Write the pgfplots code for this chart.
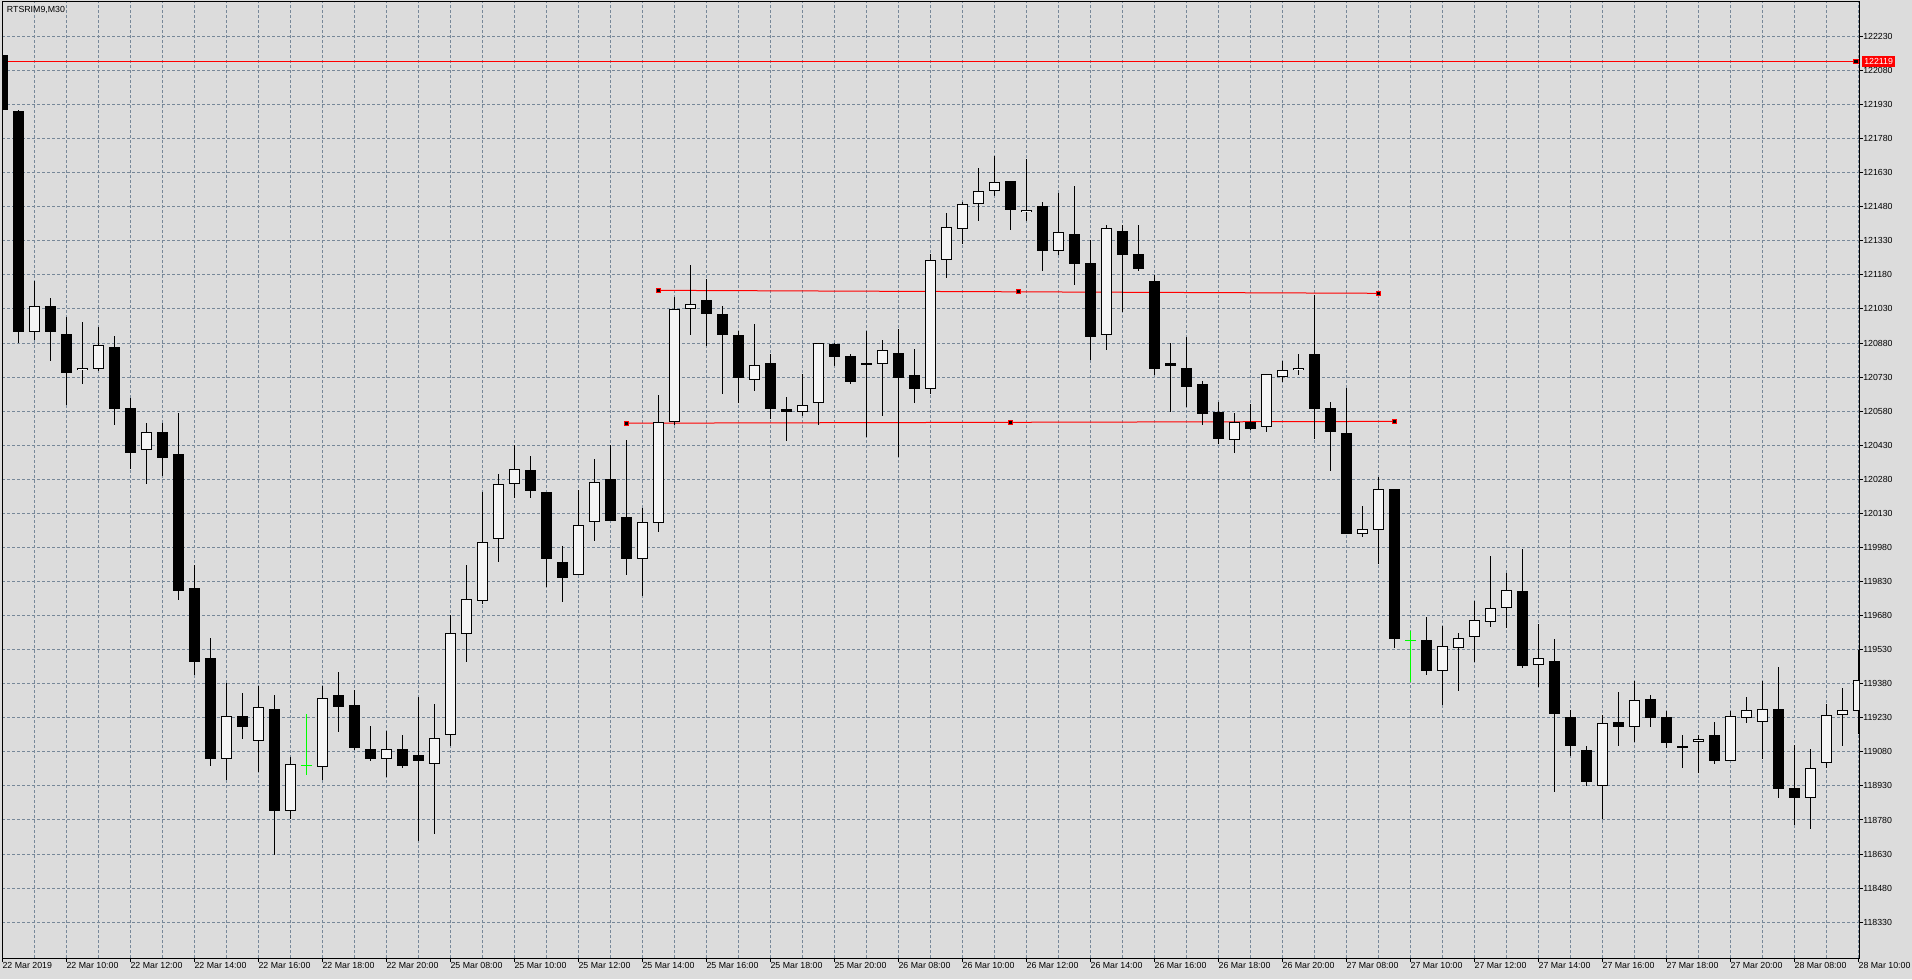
\documentclass[border=0pt]{standalone}
\usepackage{pgfplots}
\usepackage{pgfplotstable}
\pgfplotsset{compat=1.18}
\usepackage{fontspec}
\setmainfont{Liberation Sans}
\definecolor{bgc}{RGB}{220,220,220}
\definecolor{gridc}{RGB}{119,136,153}
\definecolor{wc}{RGB}{245,245,245}
\definecolor{dojic}{RGB}{0,255,0}
\definecolor{lred}{RGB}{255,0,0}

% 30-minute bars, x = bar index (0 = 22 Mar 08:00)
\pgfplotstableread{
x o h l c
0 122151 122160 121905 121909
1 121902 121905 120879 120930
2 120930 121154 120895 121042
3 121042 121081 120804 120930
4 120920 120993 120606 120748
5 120760 120972 120699 120769
6 120766 120951 120760 120871
7 120862 120911 120519 120592
8 120594 120641 120328 120398
9 120410 120531 120261 120489
10 120489 120531 120298 120377
11 120391 120571 119750 119788
12 119802 119902 119417 119475
13 119494 119580 119016 119051
14 119051 119382 118958 119240
15 119240 119342 119137 119191
16 119130 119370 118993 119279
17 119270 119331 118629 118820
18 118820 119056 118783 119028
20 119014 119370 118958 119319
21 119329 119432 119169 119279
22 119289 119352 119088 119098
23 119091 119194 119040 119050
24 119050 119172 118969 119091
25 119091 119154 119009 119018
26 119069 119323 118689 119041
27 119029 119291 118720 119140
28 119153 119683 119106 119602
29 119602 119903 119477 119752
30 119743 120224 119730 120003
31 120020 120303 119917 120262
32 120262 120430 120199 120328
33 120320 120383 120199 120230
34 120223 120225 119807 119931
35 119919 119989 119741 119847
36 119862 120233 119862 120082
37 120091 120372 120010 120271
38 120280 120430 120098 120098
39 120113 120452 119860 119931
40 119931 120154 119766 120091
41 120090 120651 120049 120531
42 120531 121084 120522 121028
43 121028 121224 120917 121050
44 121072 121162 120867 121009
45 121011 121043 120656 120917
46 120918 120933 120617 120727
47 120719 120964 120669 120782
48 120791 120832 120545 120590
49 120592 120642 120449 120578
50 120578 120744 120559 120610
51 120617 120879 120520 120879
52 120879 120879 120779 120820
53 120823 120832 120700 120710
54 120782 120933 120468 120790
55 120790 120893 120560 120852
56 120839 120942 120378 120727
57 120742 120854 120617 120679
58 120680 121270 120655 121248
59 121248 121455 121168 121390
60 121381 121502 121316 121491
61 121491 121651 121419 121552
62 121552 121703 121529 121592
63 121592 121592 121379 121467
64 121460 121690 121419 121469
65 121483 121501 121199 121287
66 121288 121541 121266 121372
67 121359 121571 121137 121229
68 121232 121334 120807 120908
69 120918 121400 120851 121389
70 121373 121400 121018 121269
71 121272 121400 121198 121207
72 121153 121182 120739 120767
73 120792 120880 120578 120780
74 120769 120909 120600 120688
75 120702 120713 120522 120569
76 120579 120619 120437 120459
77 120452 120572 120397 120531
78 120531 120612 120500 120500
79 120509 120742 120490 120742
80 120729 120801 120708 120760
81 120760 120832 120741 120769
82 120832 121091 120459 120591
83 120594 120620 120318 120488
84 120484 120682 120041 120041
85 120041 120162 120027 120060
86 120060 120290 119909 120240
87 120240 120240 119539 119578
89 119572 119674 119420 119437
90 119437 119634 119286 119549
91 119539 119603 119349 119580
92 119587 119744 119476 119659
93 119650 119942 119631 119712
94 119712 119870 119628 119791
95 119791 119973 119451 119459
96 119461 119643 119367 119492
97 119480 119580 118905 119248
98 119233 119264 119060 119105
99 119090 119105 118930 118950
100 118932 119242 118783 119210
101 119210 119343 119107 119191
102 119191 119393 119126 119311
103 119311 119330 119191 119230
104 119232 119263 119097 119120
105 119109 119154 119009 119098
106 119122 119154 118988 119138
107 119153 119211 119026 119041
108 119041 119263 119041 119241
109 119230 119321 119208 119263
110 119210 119393 119048 119271
111 119271 119453 118878 118918
112 118920 119110 118758 118878
113 118878 119092 118739 119012
114 119029 119291 119009 119241
115 119241 119361 119107 119263
116 119263 119528 119161 119399
}\candles

% bars where open = close (drawn green)
\pgfplotstableread{
x o h l c
19 119021 119249 118979 119021
88 119571 119612 119388 119571
}\dojis

\newcommand{\tfont}{\fontsize{6.6pt}{7pt}\selectfont}

\begin{document}
\begin{tikzpicture}
\path[use as bounding box, fill=bgc] (-1.5pt,-15.75pt) rectangle (1432.5pt,718.5pt);
\begin{axis}[
  at={(0pt,0pt)}, anchor=south west,
  scale only axis, width=1392.75pt, height=717pt,
  xmin=-0.019, xmax=116.04, ymin=118172.3, ymax=122381.6,
  axis line style={black, line width=0.75pt},
  xtick={0,4,...,116},
  xticklabels={22 Mar 2019,22 Mar 10:00,22 Mar 12:00,22 Mar 14:00,22 Mar 16:00,22 Mar 18:00,22 Mar 20:00,25 Mar 08:00,25 Mar 10:00,25 Mar 12:00,25 Mar 14:00,25 Mar 16:00,25 Mar 18:00,25 Mar 20:00,26 Mar 08:00,26 Mar 10:00,26 Mar 12:00,26 Mar 14:00,26 Mar 16:00,26 Mar 18:00,26 Mar 20:00,27 Mar 08:00,27 Mar 10:00,27 Mar 12:00,27 Mar 14:00,27 Mar 16:00,27 Mar 18:00,27 Mar 20:00,28 Mar 08:00,28 Mar 10:00},
  minor xtick={2,6,...,114},
  ytick={118330,118480,118630,118780,118930,119080,119230,119380,119530,119680,119830,119980,120130,120280,120430,120580,120730,120880,121030,121180,121330,121480,121630,121780,121930,122080,122230},
  yticklabels={118330,118480,118630,118780,118930,119080,119230,119380,119530,119680,119830,119980,120130,120280,120430,120580,120730,120880,121030,121180,121330,121480,121630,121780,121930,122080,122230},
  grid=both,
  major grid style={draw=gridc, dash pattern=on 2.25pt off 1.5pt, line width=0.75pt},
  minor grid style={draw=gridc, dash pattern=on 2.25pt off 1.5pt, line width=0.75pt},
  xtick pos=left, ytick pos=right, yticklabel pos=right,
  tick align=outside,
  major tick length=3pt, minor tick length=0pt,
  tick style={black, line width=0.75pt},
  xticklabel style={anchor=north west, inner sep=0pt, font=\tfont},
  yticklabel style={anchor=west, inner sep=0pt, font=\tfont},
  clip=true,
]
% horizontal line and trend lines (behind the bars)
\addplot[forget plot, lred, line width=0.75pt, mark=none] coordinates {(-1,122119) (117,122119)};
\addplot[forget plot, draw=none, mark=square*, mark size=1.6pt, mark options={draw=lred, fill=black, line width=0.75pt}] coordinates {(115.85,122119)};
\addplot[forget plot, lred, line width=0.75pt, mark=square*, mark size=1.6pt, mark options={draw=lred, fill=black, line width=0.75pt}] coordinates {(41,121112) (63.5,121105.5) (86,121099)};
\addplot[forget plot, lred, line width=0.75pt, mark=square*, mark size=1.6pt, mark options={draw=lred, fill=black, line width=0.75pt}] coordinates {(39,120527) (63,120531) (87,120535)};
% wicks
\addplot[forget plot, draw=none, mark=none,
  error bars/.cd, y dir=both, y explicit, error mark=none,
  error bar style={draw=black, solid, line width=0.75pt}]
  table[x=x, y expr={(\thisrow{h}+\thisrow{l})/2}, y error expr={(\thisrow{h}-\thisrow{l})/2}] {\candles};
% bodies (black outline / black fill)
\addplot[forget plot, draw=none, mark=none,
  error bars/.cd, y dir=both, y explicit, error mark=none,
  error bar style={draw=black, solid, line width=8.25pt}]
  table[x=x, y expr={(\thisrow{o}+\thisrow{c})/2}, y error expr={max(abs(\thisrow{o}-\thisrow{c})/2,2.2)}] {\candles};
% white inside of rising bars
\addplot[forget plot, draw=none, mark=none,
  error bars/.cd, y dir=both, y explicit, error mark=none,
  error bar style={draw=wc, solid, line width=6.75pt}]
  table[x=x, y expr={(\thisrow{o}+\thisrow{c})/2}, y error expr={max((\thisrow{c}-\thisrow{o})/2-4.4,0)}] {\candles};
% green doji bars
\addplot[forget plot, draw=none, mark=none,
  error bars/.cd, y dir=both, y explicit, error mark=none,
  error bar style={draw=dojic, solid, line width=0.75pt}]
  table[x=x, y expr={(\thisrow{h}+\thisrow{l})/2}, y error expr={(\thisrow{h}-\thisrow{l})/2}] {\dojis};
\addplot[forget plot, draw=none, mark=-, mark size=4pt, mark options={draw=dojic, solid, line width=0.75pt}]
  table[x=x, y=c] {\dojis};
\coordinate (hl) at (axis cs:116.04,122119);
\end{axis}
\node[anchor=west, fill=lred, text=white, inner xsep=1.5pt, inner ysep=0pt, minimum height=8.25pt, font=\tfont] at ([xshift=2.25pt]hl) {122119};
\node[anchor=north west, inner sep=0pt, font=\tfont] at (3.5pt,714pt) {RTSRIM9,M30};
\end{tikzpicture}
\end{document}
